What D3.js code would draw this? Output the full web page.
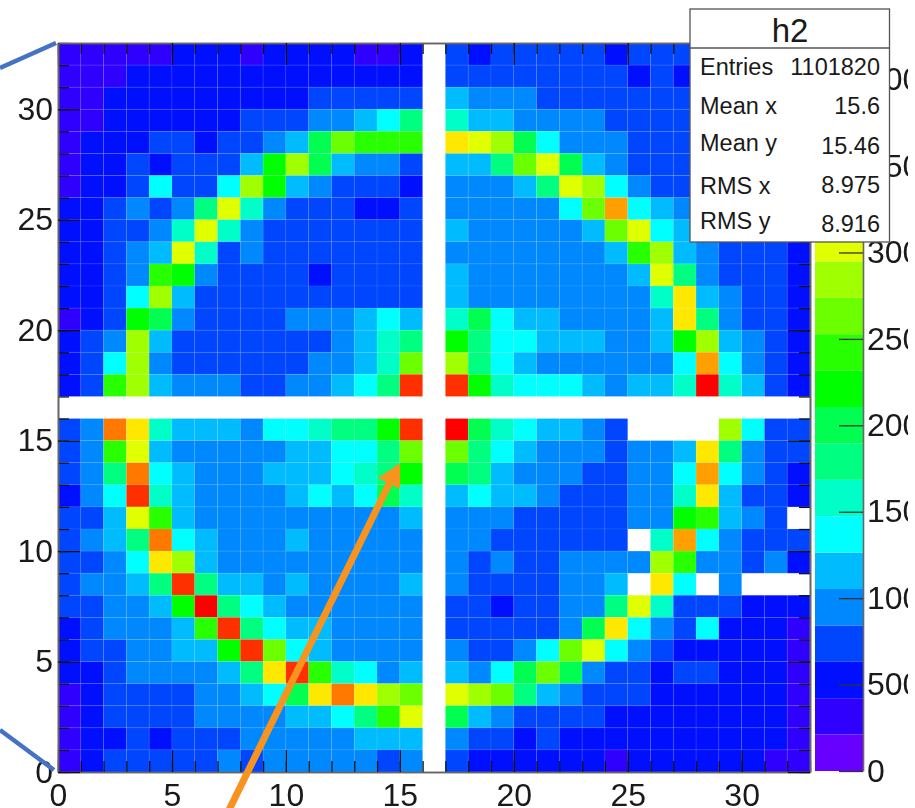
<!DOCTYPE html>
<html><head><meta charset="utf-8">
<style>
html,body{margin:0;padding:0;background:#fff;overflow:hidden}
svg{display:block;filter:blur(0.7px)}
text{font-family:"Liberation Sans",Arial,sans-serif;fill:#1a1a1a}
</style>
<script src="https://cdnjs.cloudflare.com/ajax/libs/d3/7.8.5/d3.min.js"></script>
</head><body><svg id="c" width="915" height="808"></svg>
<script>
const _ = null;
// Bin contents, top row (y bin 32) first; null = empty/hidden cell
const counts = [
[320,320,320,320,320,530,530,530,320,530,530,530,530,320,320,530,_,740,530,740,740,740,740,740,530,740,740,740,_,_,_,_,_],
[320,320,320,530,530,530,530,530,530,530,530,530,530,530,530,530,_,740,740,740,740,740,740,740,740,530,740,530,_,_,_,_,_],
[320,320,530,530,530,530,530,530,530,530,530,740,740,740,740,740,_,1160,950,950,950,740,740,740,740,740,740,740,_,_,_,_,_],
[320,320,530,530,530,530,530,530,740,740,740,950,950,1160,1370,1790,_,1580,1160,1160,950,950,950,950,740,740,740,740,_,_,_,_,_],
[320,530,530,530,740,740,530,740,740,950,1160,2000,2630,2420,2420,2420,_,3260,3050,2840,2000,1370,950,950,950,740,740,740,_,_,_,_,_],
[320,530,530,740,530,740,740,740,1160,2210,2840,2000,1160,950,950,740,_,1160,1160,1790,2630,3050,2000,1160,950,740,740,740,_,_,_,_,_],
[320,530,530,740,1370,740,740,1370,2840,2210,1160,950,740,740,740,530,_,950,950,950,1160,1790,3050,2840,1370,950,740,740,_,_,_,_,_],
[530,530,740,950,740,950,1790,3050,1580,950,740,740,740,530,530,740,_,950,950,950,950,950,1370,2630,3470,1370,1160,950,_,_,_,_,_],
[530,530,740,740,950,1580,3050,1580,950,740,740,740,740,740,740,740,_,1160,950,950,950,950,950,1160,2630,3050,1370,1160,_,_,_,_,_],
[530,530,740,950,1160,3050,1580,740,950,740,740,740,740,740,740,740,_,950,950,950,950,950,950,950,1160,2420,2840,1160,950,740,740,740,530],
[530,530,740,950,2420,2210,950,740,740,740,740,530,740,740,740,740,_,1160,950,950,950,950,950,950,950,1160,3050,1790,950,740,740,740,530],
[530,530,740,1370,2840,1160,740,740,740,740,740,740,740,740,740,740,_,1160,950,950,950,950,950,950,950,950,1580,3260,1160,950,740,740,530],
[320,530,740,2210,2000,950,740,740,740,740,950,950,950,1160,1370,1160,_,1580,2000,1370,1160,1160,950,950,950,950,1160,3260,1790,950,740,740,530],
[530,740,950,2840,1160,740,740,740,740,740,740,740,950,1160,1580,1790,_,2210,1790,1370,1370,1160,1160,1160,950,950,1160,2210,2840,1160,950,740,530],
[530,740,1370,2840,950,740,740,740,740,740,740,950,950,1160,1580,2630,_,2840,1790,1370,1160,950,950,950,950,950,950,1370,3470,1370,950,740,530],
[530,740,2420,2840,1160,950,950,950,740,740,950,950,1160,1370,1790,3890,_,3890,2210,1580,1370,1370,1370,1160,950,1160,1160,1580,4100,1580,1160,740,530],
[_,_,_,_,_,_,_,_,_,_,_,_,_,_,_,_,_,_,_,_,_,_,_,_,_,_,_,_,_,_,_,_,_],
[740,950,3680,3260,1580,1160,1160,1160,950,1370,1370,1580,1790,1790,2210,3890,_,4100,2000,1580,1370,1160,1160,950,740,_,_,_,_,2840,1370,740,740],
[740,950,2420,3050,1160,950,950,950,950,950,1160,1160,1370,1370,1790,2630,_,2630,1790,1370,1160,950,950,950,740,950,950,1160,3260,1790,950,740,740],
[740,950,1790,3680,1370,1160,950,950,950,1160,1160,1160,1370,1580,1790,2210,_,2000,1790,1160,950,950,950,740,740,950,950,1370,3470,1370,950,740,530],
[530,950,1370,3890,1580,1160,950,950,950,950,1160,1370,1160,1370,2000,1580,_,1160,1370,1160,1160,950,740,740,740,950,950,1580,3260,1160,740,740,530],
[740,740,1160,3050,2420,1160,950,950,950,950,950,950,950,950,950,1160,_,950,950,950,740,740,740,740,740,950,950,2210,2420,1160,950,740,_],
[740,950,1160,1790,3680,1370,1160,950,950,950,1160,950,950,950,950,950,_,950,950,740,740,740,740,740,740,_,1580,3470,1370,950,740,740,740],
[740,740,950,1370,3260,2840,1160,950,950,950,950,950,950,950,950,950,_,950,740,950,740,740,950,950,950,950,2840,2420,950,950,740,950,530],
[740,950,950,1160,1790,3890,1790,1160,1160,950,1160,950,950,950,950,1160,_,950,740,740,740,740,950,950,1160,_,3260,1370,_,950,_,_,_],
[740,740,950,950,1160,2210,4100,1790,1370,1160,950,950,950,950,950,950,_,740,740,530,740,740,950,950,1790,3050,1580,740,740,740,530,530,530],
[530,740,950,950,950,1160,2420,3890,1790,1370,1160,1160,950,950,950,950,_,740,740,740,740,740,950,2000,3260,1370,950,740,1370,530,530,530,320],
[530,740,740,950,950,1160,1160,2210,3890,2630,1370,1160,950,950,950,950,_,950,740,740,950,1370,2630,3050,1370,950,740,530,530,530,530,530,320],
[530,530,740,950,950,950,950,1160,1790,3260,3890,2420,1580,1370,950,1160,_,1160,950,1370,2000,2630,2000,950,740,740,530,740,740,530,530,530,320],
[320,530,740,740,740,740,950,950,1160,1370,2000,3260,3680,3260,2840,2630,_,3050,2840,2630,1790,1160,950,740,740,740,530,530,530,530,530,530,320],
[320,530,740,740,740,740,950,950,950,950,1160,1160,1370,1790,2420,3050,_,2000,1160,950,740,740,740,740,530,530,530,530,530,530,530,530,320],
[320,530,530,740,530,740,740,740,950,950,950,950,950,1160,1160,1160,_,950,740,740,530,740,530,530,530,530,530,530,530,530,530,530,320],
[320,530,740,740,740,740,740,950,740,950,950,950,950,950,740,950,_,740,530,530,530,530,530,530,320,530,530,530,530,530,530,320,320]
];
const palette = ["#6800ff","#3000ff","#0010ff","#0046ff","#0088ff","#00bcff","#00ffff","#00ffc8","#00ff80","#00ff50","#00ff00","#28ff00","#6cff00","#a0ff00","#e0ff00","#ffe800","#ffa000","#ff7800","#ff3000","#ff0000"];
const axisTicks = [0,5,10,15,20,25,30];
const zTicks = [0,500,1000,1500,2000,2500,3000,3500,4000];
const zMax = 4212, nBins = 33;
const statTitle = "h2";
const statLabels = ["Entries","Mean x","Mean y","RMS x","RMS y"];
const statValues = ["1101820","15.6","15.46","8.975","8.916"];
const statLabelY = [75,114,151,194,229];
const statValueY = [75,114,154,193,232];

const svg = d3.select("#c");
const x = d3.scaleLinear().domain([0,nBins]).range([58,810]);
const y = d3.scaleLinear().domain([0,nBins]).range([772,43]);
const colorZ = d3.scaleQuantize().domain([0,zMax]).range(palette);
const yZ = d3.scaleLinear().domain([0,zMax]).range([771,43]);

const cells = counts.flatMap((r,i)=>r.map((v,j)=>({i:nBins-1-i,j,v}))).filter(d=>d.v!==null);
svg.append("g").selectAll("rect").data(cells).join("rect")
  .attr("x",d=>x(d.j)).attr("y",d=>y(d.i+1))
  .attr("width",d=>x(d.j+1)-x(d.j)).attr("height",d=>y(d.i)-y(d.i+1))
  .attr("fill",d=>colorZ(d.v))
  .attr("stroke","rgba(255,255,255,0.09)").attr("stroke-width",0.8);

// frame and ticks
const all = d3.range(0,nBins+1);
function ax(gen,tf,vals,size,labels,pad){
  const g = svg.append("g").attr("transform",tf).call(
    gen.tickValues(vals).tickSizeInner(size).tickSizeOuter(0).tickPadding(pad||0)
       .tickFormat(labels?d3.format("d"):""));
  g.selectAll(".tick line").attr("stroke","#111").attr("stroke-width",1.3);
  g.select(".domain").attr("stroke","#666").attr("stroke-width",1.6);
  g.selectAll("text").attr("font-size",32).attr("fill","#1a1a1a");
  return g;
}
const tr=(a,b)=>`translate(${a},${b})`;
ax(d3.axisBottom(x),tr(0,772),all,-11);
ax(d3.axisTop(x),tr(0,43),all,-11);
ax(d3.axisLeft(y),tr(58,0),all,-11);
ax(d3.axisRight(y),tr(810,0),all,-11);
ax(d3.axisBottom(x),tr(0,772),axisTicks,-22,true,11);
ax(d3.axisTop(x),tr(0,43),axisTicks,-22);
ax(d3.axisLeft(y),tr(58,0),axisTicks,-22,true,5);
ax(d3.axisRight(y),tr(810,0),axisTicks,-22);

// colour bar
svg.append("clipPath").attr("id","zc").append("rect").attr("x",800).attr("y",0).attr("width",108).attr("height",808);
const zg = svg.append("g").attr("clip-path","url(#zc)");
const step = zMax/palette.length;
zg.append("g").selectAll("rect").data(palette).join("rect")
  .attr("x",815).attr("width",48)
  .attr("y",(d,i)=>yZ((i+1)*step)).attr("height",(d,i)=>yZ(i*step)-yZ((i+1)*step))
  .attr("fill",d=>d);
const za = zg.append("g").attr("transform",tr(863,0)).call(
  d3.axisRight(yZ).tickValues(zTicks).tickSizeInner(-24).tickSizeOuter(0).tickPadding(4).tickFormat(d3.format("d")));
za.selectAll(".tick line").attr("stroke","#333").attr("stroke-width",1.3);
za.select(".domain").attr("stroke","#666").attr("stroke-width",1.6);
za.selectAll("text").attr("font-size",32);

// stats box
const s = svg.append("g");
s.append("rect").attr("x",690).attr("y",9).attr("width",199.5).attr("height",233).attr("fill","#fff").attr("stroke","#555").attr("stroke-width",1.3);
s.append("line").attr("x1",690).attr("x2",889.5).attr("y1",48).attr("y2",48).attr("stroke","#555").attr("stroke-width",1.3);
s.append("text").attr("x",790).attr("y",42).attr("text-anchor","middle").attr("font-size",33).text(statTitle);
s.selectAll(".l").data(statLabels).join("text").attr("class","l").attr("x",700).attr("y",(d,i)=>statLabelY[i]).attr("font-size",23.5).text(d=>d);
s.selectAll(".v").data(statValues).join("text").attr("class","v").attr("x",880).attr("y",(d,i)=>statValueY[i]).attr("text-anchor","end").attr("font-size",23.5).text(d=>d);

// hand-drawn annotations
svg.append("line").attr("x1",0).attr("y1",68).attr("x2",56).attr("y2",43).attr("stroke","#4472c4").attr("stroke-width",4.5);
svg.append("line").attr("x1",0).attr("y1",730).attr("x2",54).attr("y2",770).attr("stroke","#4472c4").attr("stroke-width",4.5);
svg.append("line").attr("x1",228).attr("y1",812).attr("x2",390).attr("y2",482).attr("stroke","#f7931e").attr("stroke-width",7);
svg.append("path").attr("d","M400,463L378,478L400,489Z").attr("fill","#f7931e");
</script></body></html>
